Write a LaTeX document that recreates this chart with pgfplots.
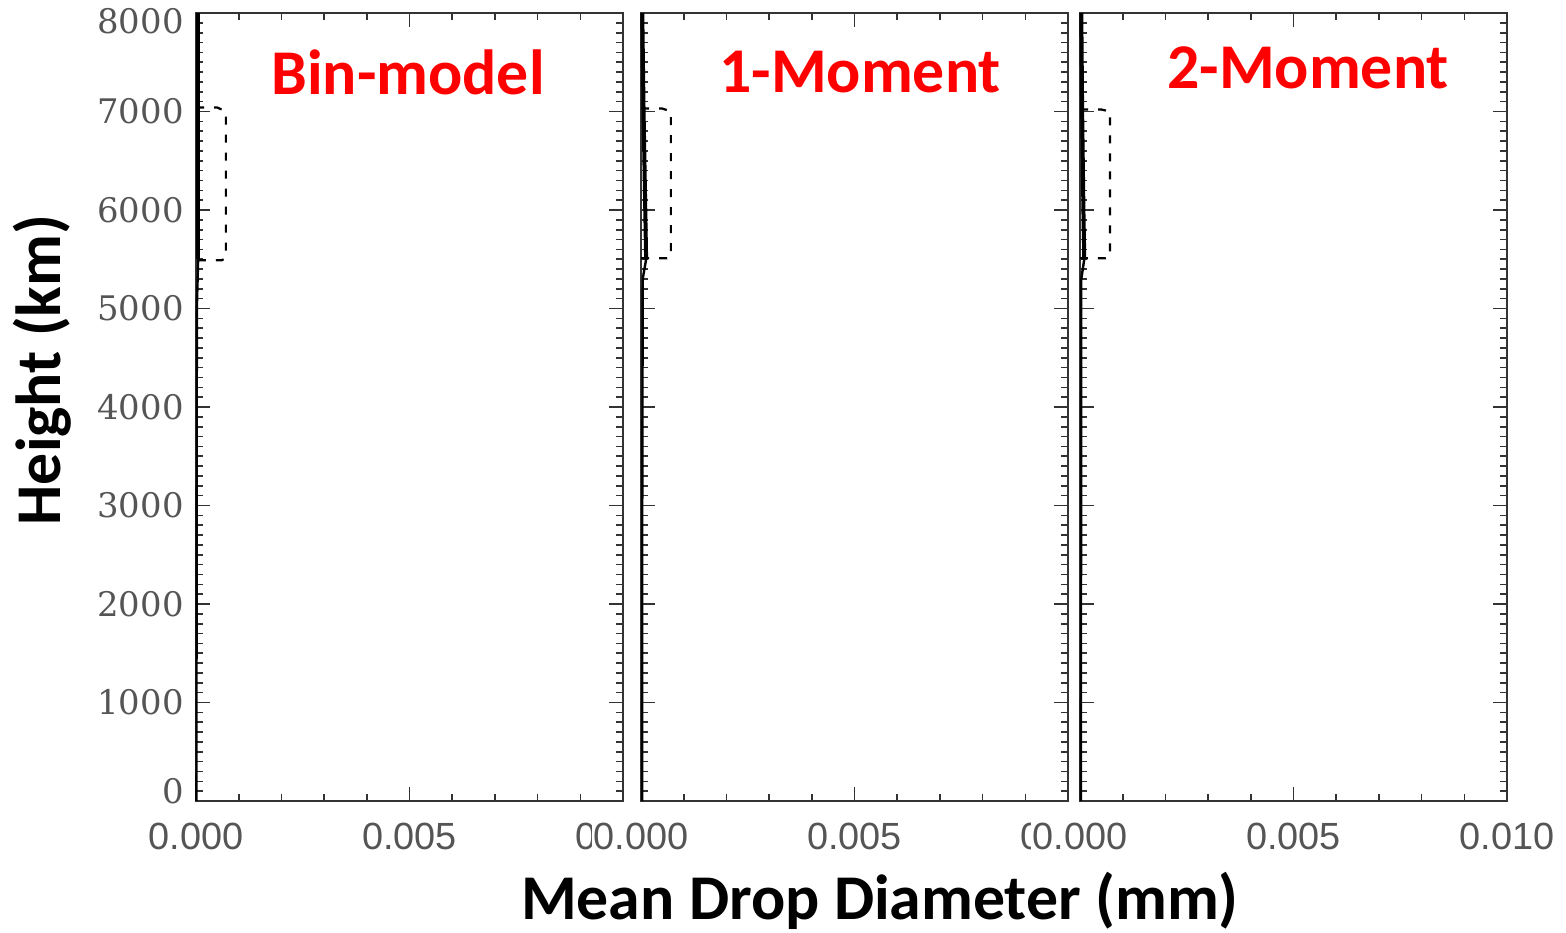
\documentclass[border=0pt]{standalone}
\usepackage{pgfplots}
\pgfplotsset{compat=1.18}
\usepackage{fontspec}
\newfontfamily\carlito{Carlito}
\newfontfamily\libsans{Liberation Sans}
\newfontfamily\dvserif{DejaVu Serif}
\definecolor{tickgray}{HTML}{555555}
\definecolor{framegray}{HTML}{333333}
\definecolor{titlered}{HTML}{FF0000}

\pgfplotsset{panel/.style={
  scale only axis, width=213.5bp, height=394bp, anchor=south west,
  xmin=0, xmax=0.01, ymin=0, ymax=8000,
  scaled x ticks=false, scaled y ticks=false,
  xtick={0,0.005,0.01}, minor x tick num=4,
  ytick={0,1000,2000,3000,4000,5000,6000,7000,8000}, minor y tick num=9,
  axis line style={framegray, line width=1bp},
  tick style={framegray, line width=0.8bp},
  major tick length=7bp, minor tick length=3.5bp,
  xticklabels={0.000,0.005,0.010},
  xticklabel style={font=\libsans\fontsize{19}{19}\selectfont, text=tickgray, fill=white, inner sep=1bp, yshift=-10bp},
  yticklabel style={font=\dvserif\fontsize{17}{17}\selectfont, text=tickgray, inner sep=1bp, xshift=-5bp},
  clip=false,
}}

\begin{document}
\begin{tikzpicture}
\useasboundingbox (0,0) rectangle (783bp,466.5bp);

% Panel 1: Bin-model
\begin{axis}[panel, at={(98bp,66bp)},
  yticklabels={\raisebox{5bp}[\height][0pt]{0},1000,2000,3000,4000,5000,6000,7000,\raisebox{-4bp}[\height][0pt]{8000}}]
\addplot[black, line width=2.2bp] coordinates {(0.00005,8000)(0.00005,7000)(0.00005,6000)(0.00005,5500)};
\addplot[black, line width=1.2bp] coordinates {(0.00005,5500)(0.00002,5000)(0.00001,0)};
\addplot[black, line width=1.1bp, dash pattern=on 4bp off 5bp] coordinates {(0,7040)(0.0005,7040)(0.0007,7000)(0.0007,5510)(0.0006,5490)(0,5490)};
\end{axis}

% Panel 2: 1-Moment
\begin{axis}[panel, at={(320.5bp,66bp)}, yticklabels={}]
\addplot[black, line width=2bp] coordinates {(0.00003,8000)(0.00006,7000)(0.0001,6000)(0.00012,5500)};
\addplot[black, line width=1.2bp] coordinates {(0.00012,5500)(0.00004,5300)(0.00003,3000)(0.00003,0)};
\addplot[black, line width=1.1bp, dash pattern=on 4bp off 5bp] coordinates {(0,7030)(0.0005,7030)(0.0007,7000)(0.0007,5520)(0.0006,5510)(0,5510)};
\end{axis}

% Panel 3: 2-Moment
\begin{axis}[panel, at={(540bp,66bp)}, yticklabels={}]
\addplot[black, line width=2bp] coordinates {(0.00003,8000)(0.00005,7000)(0.00008,6000)(0.0001,5500)};
\addplot[black, line width=1.2bp] coordinates {(0.0001,5500)(0.00003,5300)(0.00002,0)};
\addplot[black, line width=1.1bp, dash pattern=on 4bp off 5bp] coordinates {(0,7020)(0.0005,7020)(0.0007,7000)(0.0007,5520)(0.0006,5510)(0,5510)};
\end{axis}

% Titles and labels
\node[text=titlered, font=\carlito\bfseries\fontsize{32}{32}\selectfont] at (204bp,430.5bp) {Bin-model};
\node[text=titlered, font=\carlito\bfseries\fontsize{32}{32}\selectfont] at (430bp,430.5bp) {1-Moment};
\node[text=titlered, font=\carlito\bfseries\fontsize{32}{32}\selectfont] at (654bp,432.5bp) {2-Moment};
\node[rotate=90, font=\carlito\bfseries\fontsize{32}{32}\selectfont] at (21bp,281.5bp) {Height (km)};
\node[inner sep=0pt, font=\carlito\bfseries\fontsize{32}{32}\selectfont] at (440bp,16bp) {Mean Drop Diameter (mm)};
\end{tikzpicture}
\end{document}
